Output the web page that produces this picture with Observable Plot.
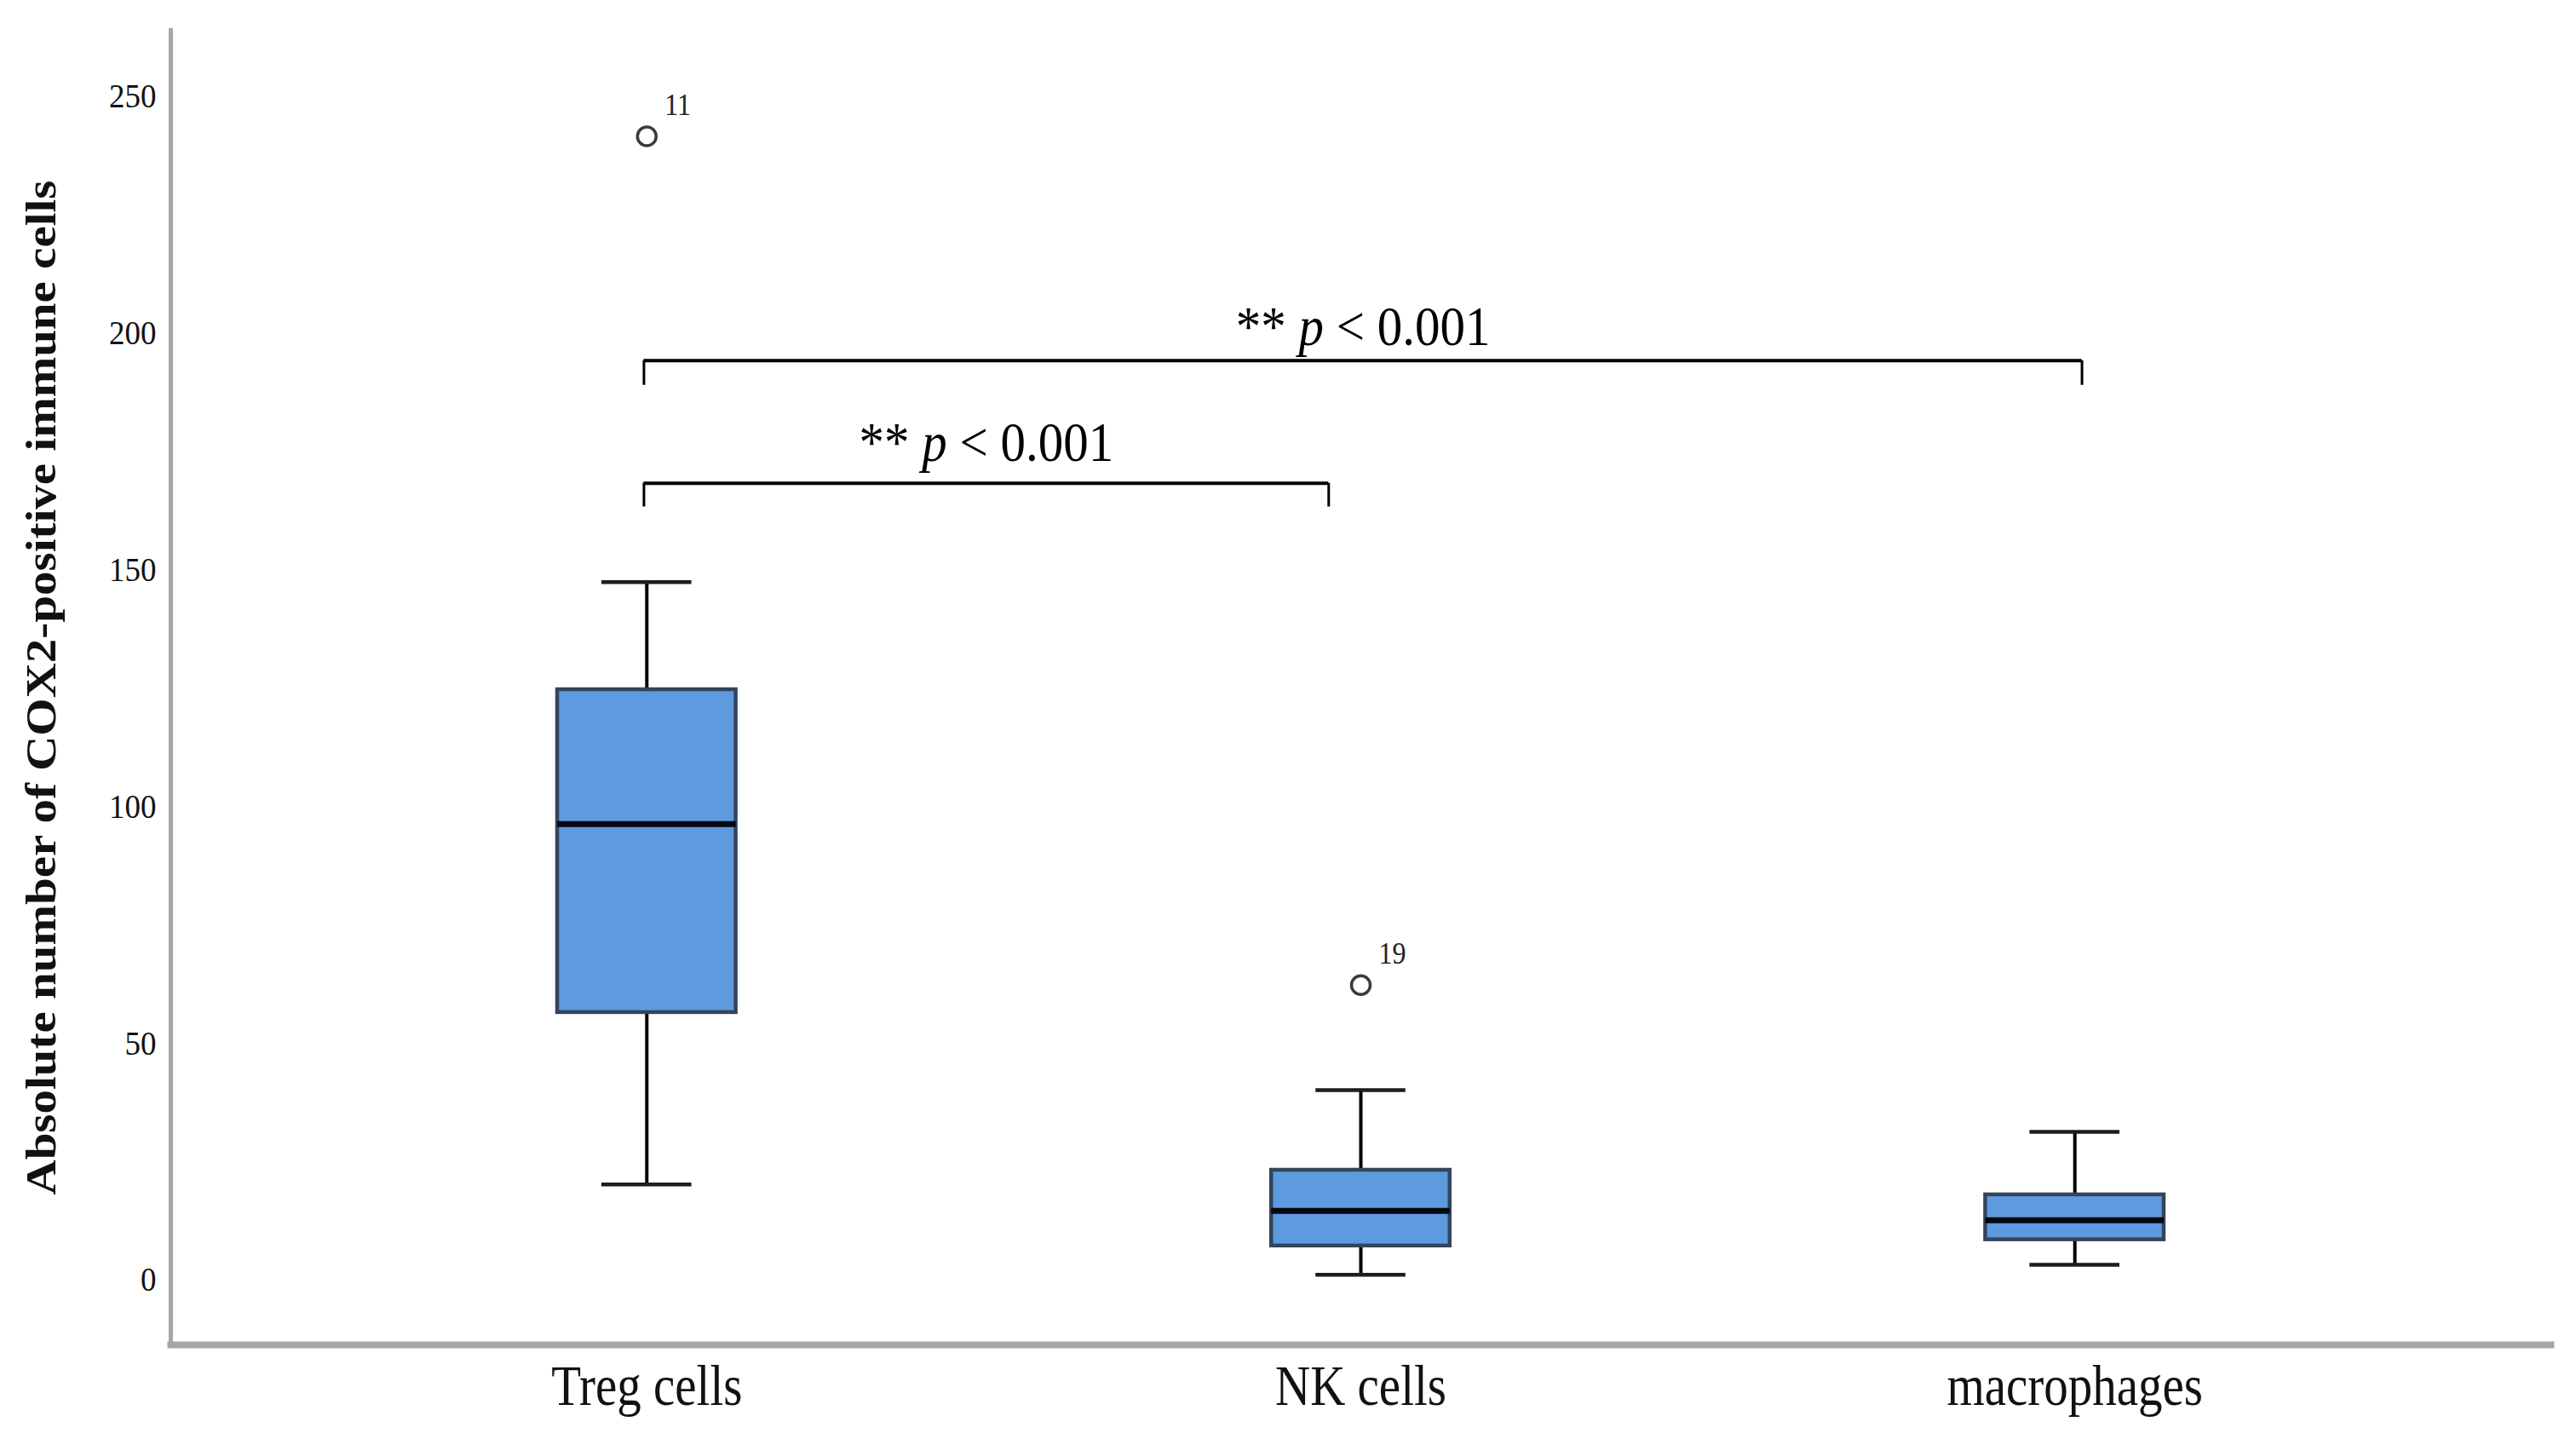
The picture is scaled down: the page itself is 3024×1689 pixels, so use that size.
<!DOCTYPE html>
<html>
<head>
<meta charset="utf-8">
<script src="https://cdn.jsdelivr.net/npm/d3@7"></script>
<script src="https://cdn.jsdelivr.net/npm/@observablehq/plot@0.6"></script>
<style>
  html, body { margin: 0; padding: 0; background: #ffffff; }
  #chart svg { display: block; }
</style>
</head>
<body>
<div id="chart"></div>
<script>
// ---- data ----
const categories = ["Treg cells", "NK cells", "macrophages"];
const whiskerLow = [20.2, 1.1, 3.2];
const q1 = [56.5, 7.2, 8.5];
const median = [96.3, 14.6, 12.6];
const q3 = [124.7, 23.2, 18.0];
const whiskerHigh = [147.4, 40.1, 31.3];

const outlierCategory = ["Treg cells", "NK cells"];
const outlierValue = [241.6, 62.3];
const outlierCase = ["11", "19"];

// brackets: ends expressed in category positions (1 = Treg cells, 2 = NK cells, 3 = macrophages)
const bracketStart = [0.996, 0.996];
const bracketEnd = [3.01, 1.955];
const bracketTop = [194.2, 168.3];
const bracketDrop = [189.0, 163.3];
const bracketLabel = ["** p < 0.001", "** p < 0.001"];
const bracketLabelY = [198.0, 173.5];

const yTicks = [0, 50, 100, 150, 200, 250];
const yTitle = "Absolute number of COX2-positive immune cells";

// ---- tables built from the arrays ----
const boxes = categories.map((c, i) => ({
  cat: c, pos: i + 1,
  low: whiskerLow[i], q1: q1[i], med: median[i], q3: q3[i], high: whiskerHigh[i]
}));
const outliers = outlierCategory.map((c, i) => ({
  pos: categories.indexOf(c) + 1, value: outlierValue[i], label: outlierCase[i]
}));
const brackets = bracketStart.map((s, i) => ({
  start: s, end: bracketEnd[i], top: bracketTop[i], drop: bracketDrop[i],
  label: bracketLabel[i], labelY: bracketLabelY[i]
}));

const BOX = 0.125;  // half box width in category units
const CAP = 0.063;  // half whisker-cap width

const chart = Plot.plot({
  width: 3024,
  height: 1689,
  marginLeft: 200,
  marginRight: 30,
  marginTop: 35,
  marginBottom: 111,
  style: { fontFamily: "'Liberation Serif', 'Times New Roman', serif", background: "#ffffff", color: "#111" },
  x: { type: "linear", domain: [1 / 3, 11 / 3] },
  y: { domain: [-13.7, 264] },
  marks: [
    Plot.frame({ anchor: "left", stroke: "#a6a6a6", strokeWidth: 5 }),
    Plot.frame({ anchor: "bottom", stroke: "#a6a6a6", strokeWidth: 8 }),
    Plot.axisY({ ticks: yTicks, tickSize: 0, tickPadding: 17, fontSize: 37, label: null }),
    Plot.axisX({ ticks: [1, 2, 3], tickFormat: d => categories[d - 1], tickSize: 0, tickPadding: 26, fontSize: 57, label: null }),
    Plot.text([yTitle], { frameAnchor: "left", rotate: -90, dx: -152, fontSize: 50, fontWeight: "bold", textAnchor: "middle" }),
    // whiskers
    Plot.ruleX(boxes, { x: "pos", y1: "low", y2: "q1", stroke: "#000", strokeWidth: 4 }),
    Plot.ruleX(boxes, { x: "pos", y1: "q3", y2: "high", stroke: "#000", strokeWidth: 4 }),
    Plot.ruleY(boxes, { x1: d => d.pos - CAP, x2: d => d.pos + CAP, y: "low", stroke: "#1e1e1e", strokeWidth: 4.5 }),
    Plot.ruleY(boxes, { x1: d => d.pos - CAP, x2: d => d.pos + CAP, y: "high", stroke: "#1e1e1e", strokeWidth: 4.5 }),
    // boxes
    Plot.rect(boxes, { x1: d => d.pos - BOX, x2: d => d.pos + BOX, y1: "q1", y2: "q3", fill: "#5e9ade", stroke: "#34445a", strokeWidth: 4.5 }),
    Plot.ruleY(boxes, { x1: d => d.pos - BOX, x2: d => d.pos + BOX, y: "med", stroke: "#05090f", strokeWidth: 7 }),
    // outliers
    Plot.dot(outliers, { x: "pos", y: "value", r: 11, stroke: "#3a3a3a", strokeWidth: 3.5, fill: "#fff" }),
    Plot.text(outliers, { x: "pos", y: "value", text: "label", dx: 21, dy: -27, textAnchor: "start", lineAnchor: "bottom", fontSize: 32, fill: "#222" }),
    // significance brackets
    Plot.ruleY(brackets, { x1: "start", x2: "end", y: "top", stroke: "#000", strokeWidth: 4 }),
    Plot.ruleX(brackets, { x: "start", y1: "top", y2: "drop", stroke: "#000", strokeWidth: 3 }),
    Plot.ruleX(brackets, { x: "end", y1: "top", y2: "drop", stroke: "#000", strokeWidth: 3 }),
    Plot.text(brackets, { x: d => (d.start + d.end) / 2, y: "labelY", text: "label", lineAnchor: "bottom", fontSize: 59, fill: "#000" })
  ]
});

document.getElementById("chart").appendChild(chart);

// italic "p" in the significance labels
chart.querySelectorAll("text").forEach(t => {
  if (t.textContent === "** p < 0.001") {
    while (t.firstChild) t.removeChild(t.firstChild);
    const ns = "http://www.w3.org/2000/svg";
    const a = document.createElementNS(ns, "tspan"); a.textContent = "** ";
    const p = document.createElementNS(ns, "tspan"); p.textContent = "p"; p.setAttribute("font-style", "italic");
    const b = document.createElementNS(ns, "tspan"); b.textContent = " < 0.001";
    t.append(a, p, b);
  }
});

// the reference's text is vertically elongated (tall, narrow serif glyphs)
chart.querySelectorAll("text").forEach(t => {
  const fs = parseFloat(getComputedStyle(t).fontSize);
  const old = t.getAttribute("transform") || "";
  const rotated = /rotate/.test(old);
  let k = fs > 58 ? 1.12 : 1.2;
  if (fs < 34) k = 1.15;
  else if (fs < 40) k = 1.1;
  if (rotated) k = 1.14;
  const bb = t.getBBox();
  const cx = bb.x + bb.width / 2, cy = bb.y + bb.height / 2;
  const s = rotated ? `scale(${k},1)` : `scale(1,${k})`;
  t.setAttribute("transform", `${old} translate(${cx},${cy}) ${s} translate(${-cx},${-cy})`);
});
</script>
</body>
</html>
